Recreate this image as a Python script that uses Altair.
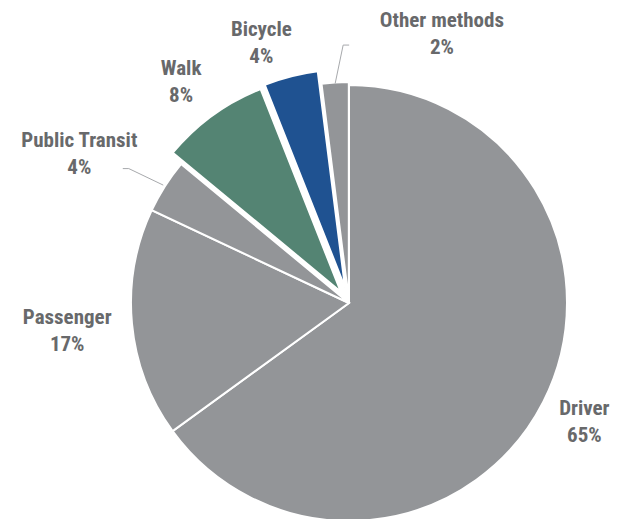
import math
import altair as alt
import pandas as pd

# ---- data ----
categories = ["Driver", "Passenger", "Public Transit", "Walk", "Bicycle", "Other methods"]
shares = [65, 17, 4, 8, 4, 2]

# ---- style ----
colors = ["#939598", "#939598", "#939598", "#548473", "#1f5291", "#939598"]
explode = {"Walk": 14, "Bicycle": 16, "Other methods": 3}
label_offsets = {  # (dx, dy) nudges from the default label ring
    "Driver": (-7, -4), "Passenger": (-11, 2), "Public Transit": (-40, -3),
    "Walk": (-8, -1), "Bicycle": (-20, 3), "Other methods": (110, 2),
}
leaders = {  # angle shift (deg) of elbow, horizontal tail (px)
    "Public Transit": (-1.0, -6), "Other methods": (2.3, 6),
}
CX, CY, R = 341, 295, 218
LABEL_R = 272
FONT = "'Roboto Condensed', 'Roboto', sans-serif"
TEXT_COLOR = "#68696b"

df = pd.DataFrame({"category": categories, "share": shares, "idx": list(range(len(categories)))})


def case_expr(mapping, default=0):
    expr = str(default)
    for k, v in mapping.items():
        expr = f"(datum.category === '{k}' ? {v} : {expr})"
    return expr


base = (
    alt.Chart(df)
    .transform_window(cum="sum(share)", sort=[alt.SortField("idx")], frame=[None, 0])
    .transform_calculate(
        start="datum.cum - datum.share",
        end="datum.cum",
        a="(datum.cum - datum.share / 2) / 100 * 2 * PI",
    )
)

arcs = (
    base.transform_calculate(ex=case_expr(explode))
    .transform_calculate(
        px=f"{CX} + datum.ex * sin(datum.a)",
        py=f"{CY} - datum.ex * cos(datum.a)",
    )
    .mark_arc(radius=R, stroke="white", strokeWidth=2)
    .encode(
        theta=alt.Theta("start:Q", scale=alt.Scale(domain=[0, 100], range=[0, 2 * math.pi])),
        theta2="end:Q",
        x=alt.X("px:Q", scale=None, axis=None),
        y=alt.Y("py:Q", scale=None, axis=None),
        color=alt.Color("category:N", scale=alt.Scale(domain=categories, range=colors), legend=None),
    )
)

labels = (
    base.transform_calculate(
        ldx=case_expr({k: v[0] for k, v in label_offsets.items()}),
        ldy=case_expr({k: v[1] for k, v in label_offsets.items()}),
        label="[datum.category, datum.share + '%']",
    )
    .transform_calculate(
        lx=f"{CX} + {LABEL_R} * sin(datum.a) + datum.ldx",
        ly=f"{CY} - {LABEL_R} * cos(datum.a) + datum.ldy",
    )
    .mark_text(font=FONT, fontSize=21, fontWeight="bold", color=TEXT_COLOR,
               align="center", baseline="middle", lineHeight=27, dy=-13)
    .encode(
        x=alt.X("lx:Q", scale=None, axis=None),
        y=alt.Y("ly:Q", scale=None, axis=None),
        text=alt.Text("label:N"),
    )
)

lead_base = (
    base.transform_filter(alt.FieldOneOfPredicate(field="category", oneOf=list(leaders.keys())))
    .transform_calculate(
        sh=case_expr({k: v[0] for k, v in leaders.items()}),
        tail=case_expr({k: v[1] for k, v in leaders.items()}),
    )
    .transform_calculate(
        x1=f"{CX} + {R + 2} * sin(datum.a)",
        y1=f"{CY} - {R + 2} * cos(datum.a)",
        xe=f"{CX} + 258 * sin(datum.a + datum.sh * PI / 180)",
        ye=f"{CY} - 258 * cos(datum.a + datum.sh * PI / 180)",
    )
    .transform_calculate(xt="datum.xe + datum.tail")
)

lead1 = lead_base.mark_rule(color="#a7a9ac", strokeWidth=1).encode(
    x=alt.X("x1:Q", scale=None, axis=None), y=alt.Y("y1:Q", scale=None, axis=None),
    x2="xe:Q", y2="ye:Q",
)
lead2 = lead_base.mark_rule(color="#a7a9ac", strokeWidth=1).encode(
    x=alt.X("xe:Q", scale=None, axis=None), y=alt.Y("ye:Q", scale=None, axis=None),
    x2="xt:Q", y2="ye:Q",
)

chart = (
    alt.layer(arcs, lead1, lead2, labels)
    .properties(width=602, height=511, padding=0, autosize="none")
    .configure_view(stroke=None)
)

chart.save("out.html", embed_options={"renderer": "svg", "actions": False})
